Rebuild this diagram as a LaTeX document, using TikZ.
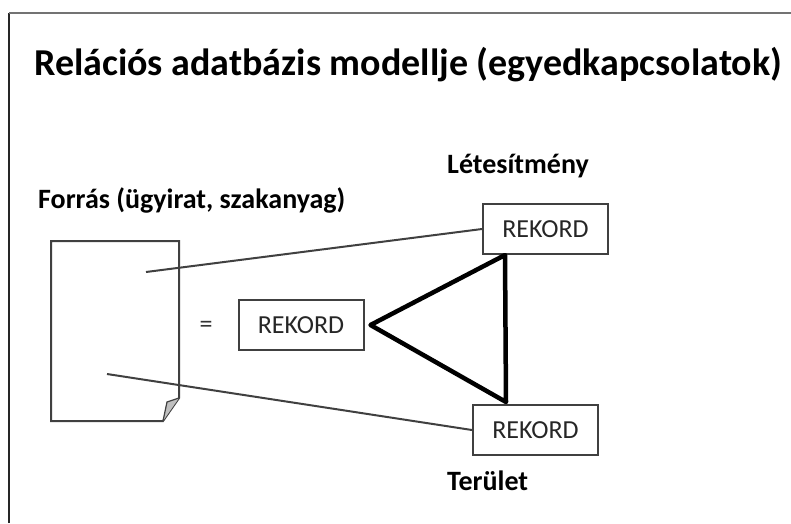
\documentclass[tikz,border=0pt]{standalone}
\usepackage{fontspec}
\setmainfont{Carlito}
\usetikzlibrary{positioning}
\usetikzlibrary{calc}

\begin{document}
\begin{tikzpicture}[x=1pt, y=-1pt]

\def\BoxWidth{125pt}
\def\BoxHeight{50pt}

% Styles
\tikzstyle{record} =
	[draw, line width=2pt, black!75, text=black!85, minimum width=\BoxWidth,
	 minimum height=\BoxHeight, inner sep=0pt, font=\fontsize{26}{30}\selectfont]

\tikzstyle{heading} =
	[anchor=base west, inner sep=0pt, font=\bfseries\fontsize{28}{32}\selectfont]

\tikzstyle{link} =
	[line width=2pt, black!75]

\tikzstyle{relation} =
	[line width=4.5pt, black, line join=round]

\useasboundingbox (0,0) rectangle (791,523);

% Frame
\draw[line width=2pt, black!85] (9,523) -- (9,13);
\draw[line width=1.2pt, black!55] (9,13) -- (791,13);

% Title
\node (Title) at (34,75) [heading, font=\bfseries\fontsize{38}{44}\selectfont]
	{Relációs adatbázis modellje (egyedkapcsolatok)};

% Source document
\node (Source) at (38,208) [heading] {Forrás (ügyirat, szakanyag)};
\draw[link] (51,241) -- (179,241) -- (179,398) -- (163,421) -- (51,421) -- cycle;
\draw[link, line width=1.2pt, fill=black!25] (163,421) -- (167,402) -- (179,398);
\coordinate (DocTop) at (146,272);
\coordinate (DocBottom) at (107,374);

\node (Equals) at (206,327) [font=\fontsize{26}{30}\selectfont, text=black!80] {=};

% Records
\node (Record) at (301,325) [record] {REKORD};
\node (TopRecord) at (545.5,229) [record] {REKORD};
\node (BottomRecord) at (535.5,430) [record] {REKORD};

\node (Facility) at (447,173) [heading] {Létesítmény};
\node (Area) at (447,490) [heading] {Terület};

% Edges
\draw[link] (DocTop) -- (TopRecord.west);
\draw[link] (DocBottom) -- (BottomRecord.west);

\draw[relation]
	($(Record.east) + (6,0)$)
	-- ($(TopRecord.south west) + (23,0)$)
	-- ($(BottomRecord.north west) + (34,-2)$)
	-- cycle;

\end{tikzpicture}
\end{document}
